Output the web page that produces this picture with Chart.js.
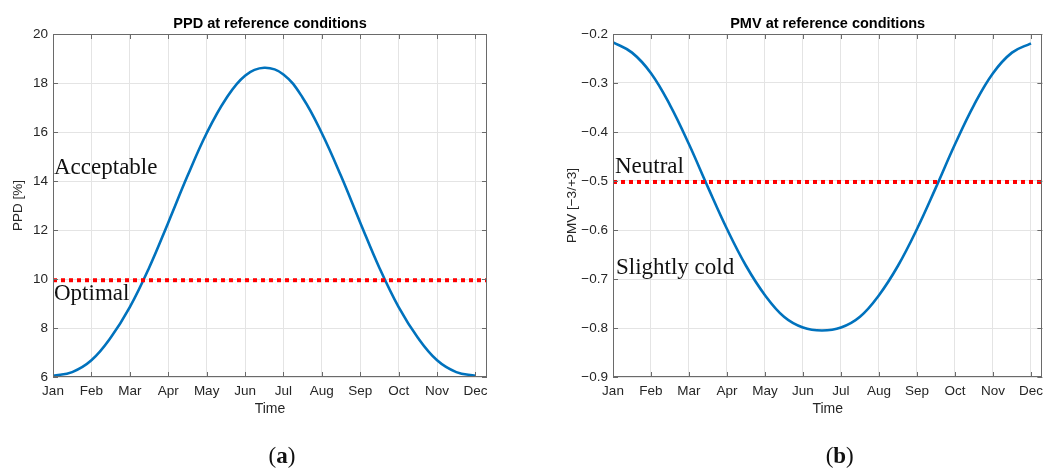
<!DOCTYPE html>
<html><head><meta charset="utf-8">
<script src="https://cdn.jsdelivr.net/npm/chart.js@4/dist/chart.umd.min.js"></script>
<style>
html,body{margin:0;padding:0;background:#fff;}
#wrap{position:relative;width:1049px;height:468px;overflow:hidden;background:#fff;}
.pane{position:absolute;top:0;height:468px;}
</style></head><body>
<div id="wrap">
  <div class="pane" style="left:0;width:524px"><canvas id="c1" width="524" height="468"></canvas></div>
  <div class="pane" style="left:524px;width:525px"><canvas id="c2" width="525" height="468"></canvas></div>
</div>
<script>
// ---- data ----
const months = ['Jan','Feb','Mar','Apr','May','Jun','Jul','Aug','Sep','Oct','Nov','Dec'];
const monthPos = [0,1,2,3,4,5,6,7,8,9,10,11];
const timeMonths = [0,0.5,1,1.5,2,2.5,3,3.5,4,4.5,5,5.5,6,6.5,7,7.5,8,8.5,9,9.5,10,10.5,11];
const ppd = [6.05,6.2,6.68,7.6,8.85,10.45,12.3,14.2,15.95,17.35,18.3,18.62,18.35,17.4,15.95,14.2,12.3,10.45,8.85,7.6,6.68,6.2,6.05];
const pmv = [-0.217,-0.238,-0.28,-0.345,-0.425,-0.513,-0.598,-0.673,-0.733,-0.777,-0.799,-0.805,-0.799,-0.777,-0.733,-0.673,-0.598,-0.513,-0.425,-0.345,-0.28,-0.238,-0.219];
const ppdTicks = [6,8,10,12,14,16,18,20];
const pmvTicks = [-0.9,-0.8,-0.7,-0.6,-0.5,-0.4,-0.3,-0.2];
const ppdOptimal = 9.95;
const pmvNeutral = -0.502;
const xMax = 11.3;

const SANS = '"Liberation Sans", Arial, Helvetica, sans-serif';
const SERIF = '"Liberation Serif", "Times New Roman", serif';
Chart.defaults.font.family = SANS;

const decor = {
  id: 'decor',
  afterDraw(chart, args, o) {
    const {ctx, chartArea: a, scales: {x, y}} = chart;
    ctx.save();
    // frame
    ctx.strokeStyle = '#6a6a6a';
    ctx.lineWidth = 1;
    ctx.strokeRect(Math.round(a.left) + 0.5, Math.round(a.top) + 0.5,
                   Math.round(a.right - a.left) - 1, Math.round(a.bottom - a.top) - 1);
    // inward ticks
    ctx.beginPath();
    x.ticks.forEach(t => {
      const px = Math.round(x.getPixelForValue(t.value)) + 0.5;
      ctx.moveTo(px, a.bottom); ctx.lineTo(px, a.bottom - 5);
      ctx.moveTo(px, a.top); ctx.lineTo(px, a.top + 5);
    });
    y.ticks.forEach(t => {
      const py = Math.round(y.getPixelForValue(t.value)) + 0.5;
      ctx.moveTo(a.left, py); ctx.lineTo(a.left + 5, py);
      ctx.moveTo(a.right, py); ctx.lineTo(a.right - 5, py);
    });
    ctx.stroke();
    // title
    ctx.fillStyle = '#000';
    ctx.font = 'bold 14.5px ' + SANS;
    ctx.textAlign = 'center';
    ctx.textBaseline = 'alphabetic';
    ctx.fillText(o.title, (a.left + a.right) / 2, a.top - 6);
    // annotations
    ctx.font = '23px ' + SERIF;
    ctx.textAlign = 'left';
    ctx.fillStyle = '#111';
    o.notes.forEach(n => ctx.fillText(n.text, a.left + n.dx, n.y));
    // panel label with bold letter
    const cx = (a.left + a.right) / 2 + 12;
    ctx.font = '23px ' + SERIF;
    const wp = ctx.measureText('(').width;
    const wp2 = ctx.measureText(')').width;
    ctx.font = 'bold 23px ' + SERIF;
    const wl = ctx.measureText(o.panel).width;
    const sx = cx - (wp + wl + wp2) / 2;
    ctx.font = '23px ' + SERIF;
    ctx.fillText('(', sx, 463);
    ctx.font = 'bold 23px ' + SERIF;
    ctx.fillText(o.panel, sx + wp, 463);
    ctx.font = '23px ' + SERIF;
    ctx.fillText(')', sx + wp + wl, 463);
    ctx.restore();
  }
};

function makeChart(id, cfg) {
  const ticksFont = {family: SANS, size: 13.5};
  return new Chart(document.getElementById(id), {
    type: 'line',
    data: {
      datasets: [
        {
          data: timeMonths.map((t, i) => ({x: t, y: cfg.values[i]})),
          borderColor: '#0072BD', borderWidth: 2.6, pointRadius: 0,
          tension: 0.4, fill: false, order: 2
        },
        {
          data: [{x: 0, y: cfg.ref}, {x: xMax, y: cfg.ref}],
          borderColor: '#ff0000', borderWidth: 4, borderDash: [4, 4],
          borderCapStyle: 'butt', pointRadius: 0, fill: false, order: 1
        }
      ]
    },
    options: {
      responsive: false, animation: false, devicePixelRatio: 1,
      layout: {padding: {top: 34, right: cfg.padRight, left: 0, bottom: 0}},
      plugins: {legend: {display: false}, tooltip: {enabled: false},
        decor: {title: cfg.title, notes: cfg.notes, panel: cfg.panel}},
      scales: {
        x: {
          type: 'linear', min: 0, max: xMax,
          afterBuildTicks: s => { s.ticks = monthPos.map(v => ({value: v})); },
          ticks: {callback: (v, i) => months[i], autoSkip: false, maxRotation: 0, minRotation: 0,
                  padding: 6, color: '#262626', font: ticksFont},
          grid: {color: '#e4e4e4', drawTicks: false, lineWidth: 1},
          border: {display: false},
          title: {display: true, text: 'Time', color: '#262626', font: {family: SANS, size: 14},
                  padding: {top: 0, bottom: 50}},
          afterFit: s => { s.height = 91; }
        },
        y: {
          min: cfg.min, max: cfg.max,
          afterBuildTicks: s => { s.ticks = cfg.ticks.map(v => ({value: v})); },
          ticks: {callback: cfg.fmt, padding: 5, color: '#262626', font: ticksFont},
          grid: {color: '#e4e4e4', drawTicks: false, lineWidth: 1},
          border: {display: false},
          title: {display: true, text: cfg.ylabel, color: '#262626', font: {family: SANS, size: 13.5},
                  padding: {top: cfg.ytitlePad, bottom: 0}},
          afterFit: s => { s.width = cfg.yWidth; }
        }
      }
    },
    plugins: [decor]
  });
}

makeChart('c1', {
  values: ppd, ref: ppdOptimal, min: 6, max: 20, ticks: ppdTicks,
  fmt: v => String(v), ylabel: 'PPD [%]', ytitlePad: 10, yWidth: 53, padRight: 37,
  title: 'PPD at reference conditions', panel: 'a',
  notes: [{text: 'Acceptable', dx: 1, y: 174}, {text: 'Optimal', dx: 1, y: 300}]
});

makeChart('c2', {
  values: pmv, ref: pmvNeutral, min: -0.9, max: -0.2, ticks: pmvTicks,
  fmt: v => v.toFixed(1).replace('-', '\u2212'), ylabel: 'PMV [\u22123/+3]', ytitlePad: 40,
  yWidth: 89, padRight: 1,
  title: 'PMV at reference conditions', panel: 'b',
  notes: [{text: 'Neutral', dx: 2, y: 173}, {text: 'Slightly cold', dx: 3, y: 274}]
});
</script>
</body></html>
